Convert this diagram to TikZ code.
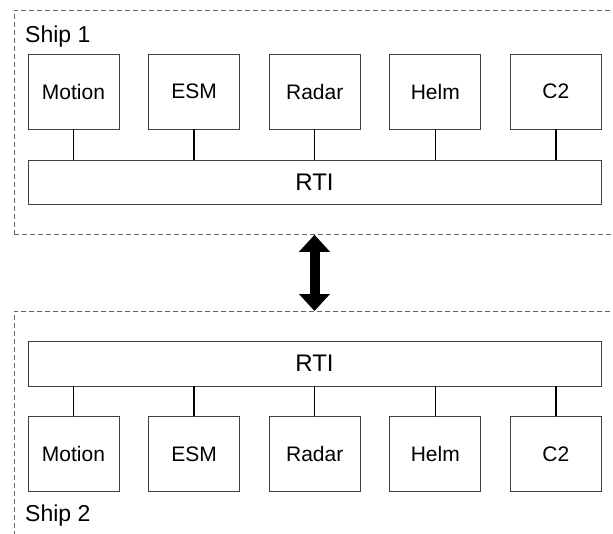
\documentclass[tikz,border=0pt]{standalone}
\usepackage{fontspec}
\setmainfont{Liberation Sans}
\usetikzlibrary{arrows.meta}

\begin{document}
\begin{tikzpicture}[x=1pt, y=-1pt,
  shipbox/.style={draw=black!60, line width=0.8pt, dash pattern=on 5pt off 3pt,
    minimum width=606pt, anchor=north west, inner sep=0pt},
  modbox/.style={draw=black!75, line width=0.8pt, minimum width=91pt,
    minimum height=75pt, inner sep=0pt, font=\fontsize{21}{25}\selectfont},
  rtibox/.style={draw=black!75, line width=0.8pt, minimum width=573pt,
    inner sep=0pt, font=\fontsize{24}{28}\selectfont},
  shiplabel/.style={anchor=base west, inner sep=0pt, font=\fontsize{23}{27}\selectfont},
  bus/.style={line width=1.3pt},
  bigarrow/.style={line width=10pt,
    {Triangle[length=17pt, width=30pt]}-{Triangle[length=17pt, width=30pt]}},
]
  \useasboundingbox (0,0) rectangle (613,533);
  % Ship 1
  \node[shipbox, minimum height=224pt] (ship1) at (14,10) {};
  \node[shiplabel] (lab1) at (25,42) {Ship 1};
  \node[rtibox, minimum height=44pt] (rtia) at (314.5,182) {RTI};
  \foreach \name [count=\i] in {Motion,ESM,Radar,Helm,C2} {
    \node[modbox] (a\i) at ({73.5+(\i-1)*120.6},91.5) {\name};
    \draw[bus] (a\i.south) -- (a\i.south |- rtia.north);
  }
  % Ship 2
  \node[shipbox, minimum height=240pt] (ship2) at (14,311) {};
  \node[shiplabel] (lab2) at (25,521) {Ship 2};
  \node[rtibox, minimum height=45pt] (rtib) at (314.5,363.5) {RTI};
  \foreach \name [count=\i] in {Motion,ESM,Radar,Helm,C2} {
    \node[modbox] (b\i) at ({73.5+(\i-1)*120.6},454) {\name};
    \draw[bus] (b\i.north) -- (b\i.north |- rtib.south);
  }
  % link
  \draw[bigarrow] (ship1.south -| rtia.center) -- (ship2.north -| rtib.center);
\end{tikzpicture}
\end{document}
